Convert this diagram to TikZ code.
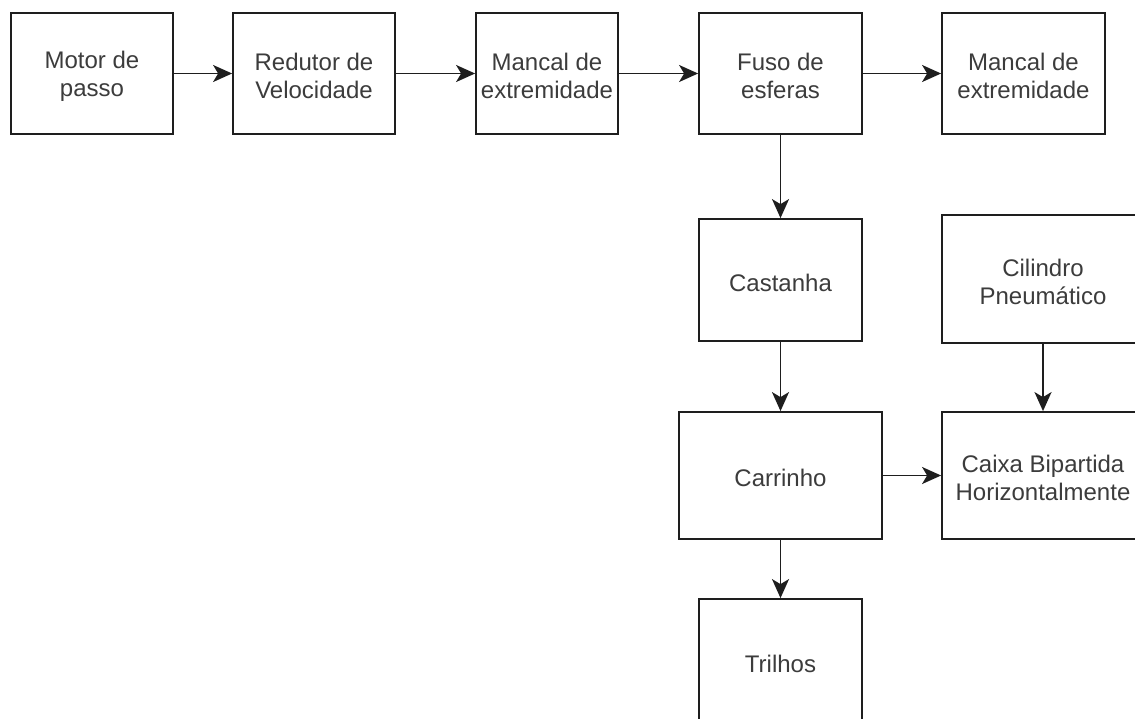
\documentclass[tikz,border=0pt]{standalone}
\usepackage{fontspec}
\setmainfont{Liberation Sans}
\usetikzlibrary{arrows.meta}
\definecolor{txt}{HTML}{3C3C3C}
\definecolor{ln}{HTML}{1E1E1E}
\tikzset{
  blk/.style={draw=ln, line width=1.8pt, fill=white, inner sep=0pt, minimum height=121pt},
  lbl/.style={align=center, text=txt, font=\fontsize{24}{28}\selectfont, inner sep=0pt, yshift=-2.5pt},
  arr/.style={draw=ln, line width=1.8pt, -{Stealth[length=19pt,width=17pt,inset=5pt]}}
}
\begin{document}
\begin{tikzpicture}[x=1pt,y=-1pt]
\useasboundingbox (0,0) rectangle (1135,718);
\clip (0,0) rectangle (1135,718);
\node[blk, minimum width=162pt, label={[lbl]center:Motor de\\passo}] (motor) at (92,73.5) {};
\node[blk, minimum width=162pt, label={[lbl]center:Redutor de\\Velocidade}] (redutor) at (314,73.5) {};
\node[blk, minimum width=142pt, label={[lbl]center:Mancal de\\extremidade}] (mancalA) at (547,73.5) {};
\node[blk, minimum width=163pt, label={[lbl]center:Fuso de\\esferas}] (fuso) at (780.5,73.5) {};
\node[blk, minimum width=163pt, label={[lbl]center:Mancal de\\extremidade}] (mancalB) at (1023.5,73.5) {};
\node[blk, minimum width=163pt, minimum height=122pt, label={[lbl]center:Castanha}] (castanha) at (780.5,280) {};
\node[blk, minimum width=202pt, minimum height=128pt, label={[lbl]center:Cilindro\\Pneumático}] (cilindro) at (1043,279) {};
\node[blk, minimum width=203pt, minimum height=127pt, label={[lbl]center:Carrinho}] (carrinho) at (780.5,475.5) {};
\node[blk, minimum width=202pt, minimum height=127pt, label={[lbl]center:Caixa Bipartida\\Horizontalmente}] (caixa) at (1043,475.5) {};
\node[blk, minimum width=163pt, minimum height=150pt] (trilhos) at (780.5,674) {};
\node[lbl] (trilhostxt) at (780.5,661) {Trilhos};
\draw[arr] (motor) -- (redutor);
\draw[arr] (redutor) -- (mancalA);
\draw[arr] (mancalA) -- (fuso);
\draw[arr] (fuso) -- (mancalB);
\draw[arr] (fuso) -- (castanha);
\draw[arr] (castanha) -- (carrinho);
\draw[arr] (carrinho) -- (trilhos);
\draw[arr] (cilindro) -- (caixa);
\draw[arr] (carrinho) -- (caixa);
\end{tikzpicture}
\end{document}
